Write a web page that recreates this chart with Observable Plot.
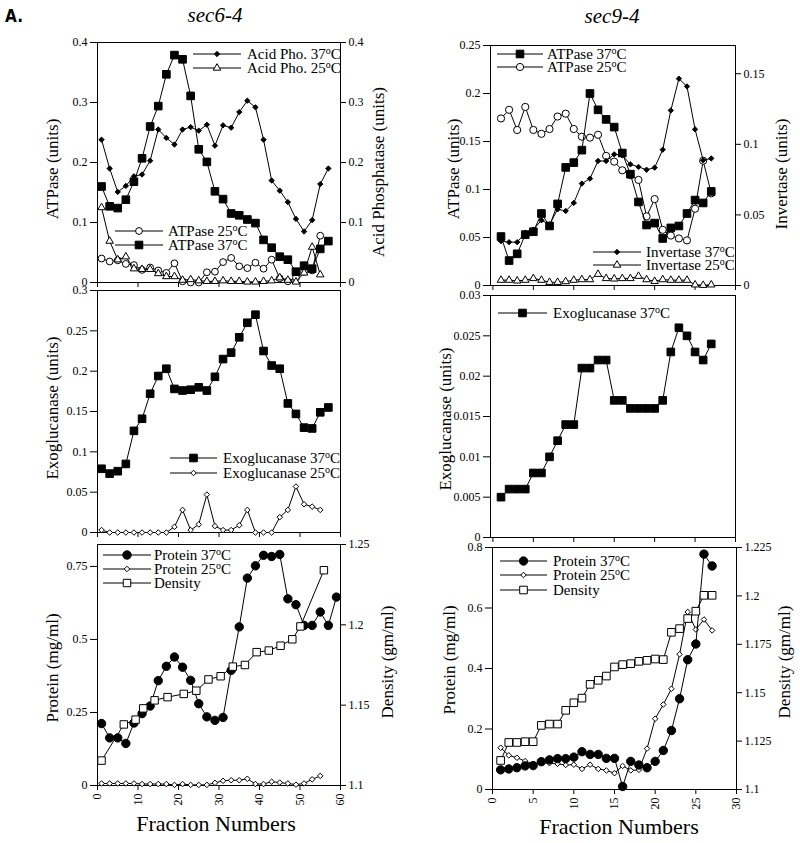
<!DOCTYPE html>
<html><head><meta charset="utf-8">
<script src="https://cdn.jsdelivr.net/npm/d3@7"></script>
<script src="https://cdn.jsdelivr.net/npm/@observablehq/plot@0.6"></script>
<style>
body{margin:0;background:#fff;}
#page{position:relative;width:800px;height:843px;overflow:hidden;background:#fff;}
#page svg, #page svg text{font-family:"Liberation Serif","Times New Roman",serif !important;}
#page svg text.sans{font-family:"Liberation Sans Narrow","DejaVu Sans Condensed","Liberation Sans",sans-serif !important;}
</style></head><body><div id="page"></div>
<script>
// ---------------- DATA ----------------
const fracOdd57 = [1,3,5,7,9,11,13,15,17,19,21,23,25,27,29,31,33,35,37,39,41,43,45,47,49,51,53,55,57];
const fracOdd55 = [1,3,5,7,9,11,13,15,17,19,21,23,25,27,29,31,33,35,37,39,41,43,45,47,49,51,53,55];
const fracOdd59 = [1,3,5,7,9,11,13,15,17,19,21,23,25,27,29,31,33,35,37,39,41,43,45,47,49,51,53,55,57,59];
const frac27 = [1,2,3,4,5,6,7,8,9,10,11,12,13,14,15,16,17,18,19,20,21,22,23,24,25,26,27];

// sec6-4
const sec6_atpase37 = [0.160,0.127,0.124,0.138,0.168,0.207,0.260,0.294,0.347,0.379,0.372,0.311,0.222,0.201,0.152,0.139,0.115,0.112,0.105,0.099,0.071,0.058,0.043,0.038,0.018,0.028,0.023,0.056,0.069];
const sec6_atpase25 = [0.040,0.035,0.037,0.031,0.029,0.021,0.025,0.020,0.016,0.032,0.002,0,0,0.017,0.018,0.034,0.041,0.027,0.024,0.033,0.023,0.038,0.007,0.002,0.008,0.018,0.020,0.078];
const sec6_acid37 = [0.238,0.190,0.151,0.161,0.177,0.180,0.203,0.255,0.241,0.230,0.255,0.259,0.253,0.263,0.228,0.262,0.258,0.284,0.303,0.292,0.238,0.170,0.153,0.134,0.106,0.085,0.104,0.164,0.190];
const sec6_acid25 = [0.125,0.069,0.038,0.043,0.023,0.022,0.022,0.015,0.010,0.010,0.004,0.005,0.003,0.002,0.002,0.003,0.002,0.002,0.001,0.001,0.002,0.003,0.008,0.004,0.001,0.016,0.059,0.013];
const sec6_exo37 = [0.079,0.073,0.076,0.085,0.126,0.141,0.172,0.194,0.203,0.178,0.176,0.177,0.180,0.176,0.193,0.215,0.223,0.242,0.260,0.270,0.225,0.207,0.203,0.160,0.147,0.130,0.129,0.149,0.155];
const sec6_exo25 = [0.003,0,0,0,0,0,0,0,0,0.007,0.028,0.003,0.010,0.047,0.008,0.003,0.003,0.009,0.028,0,0,0,0.019,0.028,0.057,0.035,0.032,0.028];
const sec6_prot37 = [0.212,0.163,0.163,0.144,0.214,0.246,0.272,0.359,0.408,0.440,0.405,0.360,0.280,0.235,0.223,0.233,0.394,0.543,0.710,0.752,0.788,0.784,0.791,0.639,0.619,0.548,0.548,0.594,0.548,0.645];
const sec6_prot25 = [0.007,0.007,0.007,0.007,0.007,0.005,0.005,0.005,0.005,0.002,0.005,0.002,0.002,0.002,0.009,0.016,0.018,0.018,0.023,0.005,0.005,0.013,0.010,0.007,0.003,0.007,0.021,0.033];
const sec6_densityFrac = [1,6.5,9.4,11.3,14.1,17.3,21.3,24.4,27.4,30.4,33.4,36.4,39.3,42.3,45.2,48.1,50.1,55.9];
const sec6_density = [1.1155,1.138,1.141,1.148,1.153,1.155,1.157,1.159,1.166,1.168,1.174,1.175,1.183,1.184,1.187,1.191,1.199,1.234];

// sec9-4
const sec9_atpase37 = [0.051,0.026,0.033,0.053,0.056,0.075,0.062,0.085,0.123,0.128,0.141,0.200,0.183,0.173,0.165,0.138,0.116,0.087,0.063,0.065,0.049,0.060,0.062,0.075,0.089,0.086,0.098];
const sec9_atpase25 = [0.174,0.183,0.162,0.186,0.162,0.158,0.163,0.176,0.179,0.163,0.155,0.154,0.157,0.135,0.129,0.120,0.115,0.110,0.072,0.090,0.058,0.052,0.049,0.047,0.080,0.130,0.096];
const sec9_inv37 = [0.0314,0.0307,0.0307,0.0373,0.0396,0.0462,0.0432,0.054,0.0528,0.0585,0.0722,0.0757,0.0882,0.0882,0.0929,0.0922,0.0858,0.084,0.082,0.0835,0.0962,0.124,0.1465,0.141,0.1106,0.0887,0.090];
const sec9_inv25 = [0.0038,0.0038,0.0033,0.0038,0.005,0.0038,0.0023,0.0023,0.0028,0.0038,0.0042,0.0042,0.008,0.005,0.0047,0.005,0.005,0.0066,0.0042,0.003,0.0042,0.0038,0.0038,0.0038,0.0005,0.0002,0.0005];
const sec9_exo37 = [0.005,0.006,0.006,0.006,0.008,0.008,0.010,0.012,0.014,0.014,0.021,0.021,0.022,0.022,0.017,0.017,0.016,0.016,0.016,0.016,0.017,0.023,0.026,0.025,0.023,0.022,0.024];
const sec9_prot37 = [0.065,0.068,0.072,0.078,0.079,0.092,0.098,0.102,0.102,0.107,0.125,0.116,0.116,0.103,0.103,0.010,0.093,0.081,0.072,0.093,0.129,0.195,0.300,0.429,0.481,0.778,0.739];
const sec9_prot25 = [0.138,0.113,0.105,0.094,0.085,0.089,0.087,0.085,0.081,0.082,0.068,0.082,0.068,0.063,0.054,0.078,0.063,0.065,0.135,0.234,0.281,0.333,0.447,0.587,0.529,0.562,0.526];
const sec9_density = [1.115,1.1243,1.1243,1.1247,1.1247,1.1331,1.1338,1.1338,1.1409,1.1448,1.1472,1.1543,1.1564,1.1586,1.1633,1.1645,1.165,1.1662,1.1667,1.1674,1.1671,1.1812,1.1831,1.1883,1.1921,1.2003,1.2003];

// tick labels
const ticksX60 = [0,10,20,30,40,50,60];
const ticksX30 = [0,5,10,15,20,25,30];
const ticksAtp6 = [0,0.1,0.2,0.3,0.4];
const ticksExo6 = [0,0.05,0.1,0.15,0.2,0.25,0.3];
const ticksProt6 = [0,0.25,0.5,0.75];
const ticksDens6 = [1.1,1.15,1.2,1.25];
const ticksAtp9 = [0,0.05,0.1,0.15,0.2,0.25];
const ticksInv9 = [0,0.05,0.1,0.15];
const ticksExo9 = [0,0.005,0.01,0.015,0.02,0.025,0.03];
const ticksProt9 = [0,0.2,0.4,0.6,0.8];
const ticksDens9 = [1.1,1.125,1.15,1.175,1.2,1.225];

// ---------------- RENDER ----------------
const FONT = '"Liberation Serif", "Times New Roman", serif';
const page = document.getElementById("page");

function S(x, y, symbol, r, filled) { return {x, y, symbol, r, filled}; }

function layers(series) {
  return series.flatMap(s => {
    const data = s.x.map((x, i) => ({x, y: s.y[i]}));
    return [
      Plot.line(data, {x: "x", y: "y", stroke: "black", strokeWidth: 1}),
      Plot.dot(data, {x: "x", y: "y", symbol: s.symbol, r: s.r,
        fill: s.filled ? "black" : "white", stroke: "black", strokeWidth: 1})
    ];
  });
}

function place(svg, left, top) {
  svg.style.position = "absolute";
  svg.style.left = left + "px";
  svg.style.top = top + "px";
  page.appendChild(svg);
}

function panel(cfg) {
  const W = 400, mt = 10, mb = cfg.xLabels ? 30 : 10;
  const ml = cfg.fx0 - cfg.colLeft, mr = cfg.colLeft + W - cfg.fx1;
  const H = cfg.fy1 - cfg.fy0 + mt + mb;
  const common = {width: W, height: H, marginLeft: ml, marginRight: mr, marginTop: mt, marginBottom: mb,
    style: {background: "transparent", fontFamily: FONT, fontSize: "12px", color: "black", overflow: "visible"}};
  const p1 = Plot.plot({...common,
    x: {domain: cfg.xDomain, ticks: cfg.xTicks, tickSize: 5, tickPadding: 3,
        tickFormat: cfg.xLabels ? (d => String(d)) : (() => ""), tickRotate: cfg.xLabels ? -90 : 0, label: null},
    y: {domain: cfg.yDomain, ticks: cfg.yTicks, tickSize: 7, tickPadding: 3, tickFormat: d => String(d), label: null},
    marks: [Plot.frame({stroke: "black"}), ...layers(cfg.left)]
  });
  place(p1, cfg.colLeft, cfg.fy0 - mt);
  if (cfg.right) {
    const p2 = Plot.plot({...common,
      x: {domain: cfg.xDomain, axis: null},
      y: {domain: cfg.y2Domain, ticks: cfg.y2Ticks, axis: "right", tickSize: 5, tickPadding: 3, tickFormat: d => String(d), label: null},
      marks: layers(cfg.right)
    });
    place(p2, cfg.colLeft, cfg.fy0 - mt);
  }
}

// sec6-4 column
panel({colLeft: 0, fx0: 97, fx1: 340, fy0: 42, fy1: 282, xDomain: [0, 60], xTicks: ticksX60,
  yDomain: [0, 0.4], yTicks: ticksAtp6, y2Domain: [0, 0.4], y2Ticks: ticksAtp6,
  left: [S(fracOdd55, sec6_atpase25, "circle", 3.4, false), S(fracOdd57, sec6_atpase37, "square", 4.3, true)],
  right: [S(fracOdd55, sec6_acid25, "triangle", 2.8, false), S(fracOdd57, sec6_acid37, "diamond2", 2.4, true)]});
panel({colLeft: 0, fx0: 97, fx1: 340, fy0: 290, fy1: 532, xDomain: [0, 60], xTicks: ticksX60,
  yDomain: [0, 0.3], yTicks: ticksExo6,
  left: [S(fracOdd55, sec6_exo25, "diamond2", 2.5, false), S(fracOdd57, sec6_exo37, "square", 4.3, true)]});
panel({colLeft: 0, fx0: 97, fx1: 340, fy0: 544, fy1: 785, xDomain: [0, 60], xTicks: ticksX60, xLabels: true,
  yDomain: [0, 0.825], yTicks: ticksProt6, y2Domain: [1.1, 1.25], y2Ticks: ticksDens6,
  left: [S(fracOdd55, sec6_prot25, "diamond2", 2.5, false), S(fracOdd59, sec6_prot37, "circle", 4.2, true)],
  right: [S(sec6_densityFrac, sec6_density, "square", 4.2, false)]});

// sec9-4 column
panel({colLeft: 400, fx0: 490, fx1: 735, fy0: 45, fy1: 285, xDomain: [-0.3, 30], xTicks: ticksX30,
  yDomain: [0, 0.25], yTicks: ticksAtp9, y2Domain: [0, 0.17], y2Ticks: ticksInv9,
  left: [S(frac27, sec9_atpase25, "circle", 3.6, false), S(frac27, sec9_atpase37, "square", 4.3, true)],
  right: [S(frac27, sec9_inv25, "triangle", 2.8, false), S(frac27, sec9_inv37, "diamond2", 2.4, true)]});
panel({colLeft: 400, fx0: 490, fx1: 735, fy0: 295, fy1: 537, xDomain: [-0.3, 30], xTicks: ticksX30,
  yDomain: [0, 0.03], yTicks: ticksExo9,
  left: [S(frac27, sec9_exo37, "square", 4.3, true)]});
panel({colLeft: 400, fx0: 492, fx1: 736, fy0: 547, fy1: 789, xDomain: [0, 30], xTicks: ticksX30, xLabels: true,
  yDomain: [0, 0.8], yTicks: ticksProt9, y2Domain: [1.1, 1.225], y2Ticks: ticksDens9,
  left: [S(frac27, sec9_prot25, "diamond2", 2.5, false), S(frac27, sec9_prot37, "circle", 4.2, true)],
  right: [S(frac27, sec9_density, "square", 4.3, false)]});

// ---------------- TEXT OVERLAY (titles, axis labels, legends) ----------------
const ov = d3.select(page).append("svg").attr("width", 800).attr("height", 843)
  .style("position", "absolute").style("left", "0px").style("top", "0px")
  .style("font-family", FONT).style("pointer-events", "none");

ov.append("text").attr("class", "sans").attr("x", 5).attr("y", 22).text("A.")
  .style("font-weight", "bold").style("font-size", "17px");
ov.append("text").attr("x", 215).attr("y", 22).attr("text-anchor", "middle").style("font-style", "italic").style("font-size", "21px").text("sec6-4");
ov.append("text").attr("x", 612).attr("y", 23).attr("text-anchor", "middle").style("font-style", "italic").style("font-size", "21px").text("sec9-4");

function vlabel(cx, cy, t, size) {
  ov.append("text").attr("transform", `translate(${cx},${cy}) rotate(-90)`)
    .attr("text-anchor", "middle").attr("dominant-baseline", "central")
    .style("font-size", (size || 17) + "px").text(t);
}
vlabel(52, 169, "ATPase (units)");
vlabel(52, 408, "Exoglucanase (units)");
vlabel(52, 668, "Protein (mg/ml)");
vlabel(378, 172, "Acid Phosphatase (units)");
vlabel(387, 662, "Density (gm/ml)");
vlabel(453, 169, "ATPase (units)");
vlabel(781, 174, "Invertase (units)");
vlabel(445, 419, "Exoglucanase (units)");
vlabel(449, 660, "Protein (mg/ml)");
vlabel(784, 662, "Density (gm/ml)");

ov.append("text").attr("x", 216).attr("y", 831).attr("text-anchor", "middle").style("font-size", "22px").text("Fraction Numbers");
ov.append("text").attr("x", 619).attr("y", 834).attr("text-anchor", "middle").style("font-size", "22px").text("Fraction Numbers");

const symMap = {square: d3.symbolSquare, circle: d3.symbolCircle, diamond2: d3.symbolDiamond2, triangle: d3.symbolTriangle};
function legend(x0, x1, y, symbol, r, filled, label, tx) {
  ov.append("line").attr("x1", x0).attr("x2", x1).attr("y1", y).attr("y2", y).attr("stroke", "black").attr("stroke-width", 1);
  ov.append("path").attr("transform", `translate(${(x0 + x1) / 2},${y})`)
    .attr("d", d3.symbol(symMap[symbol], r * r * Math.PI)())
    .attr("fill", filled ? "black" : "white").attr("stroke", "black").attr("stroke-width", 1);
  const t = ov.append("text").attr("x", tx).attr("y", y + 5).style("font-size", "15px");
  const m = label.match(/^(.*)oC$/);
  if (m) {
    t.append("tspan").text(m[1]);
    t.append("tspan").attr("dy", -5).style("font-size", "10px").text("o");
    t.append("tspan").attr("dy", 5).text("C");
  } else t.text(label);
}
// sec6-4 legends
legend(193, 241, 54, "diamond2", 2.4, true, "Acid Pho. 37oC", 247);
legend(193, 241, 68, "triangle", 2.8, false, "Acid Pho. 25oC", 247);
legend(115, 163, 231, "circle", 3.4, false, "ATPase 25oC", 168);
legend(115, 163, 245, "square", 4.3, true, "ATPase 37oC", 168);
legend(170, 217, 458, "square", 4.3, true, "Exoglucanase 37oC", 223);
legend(170, 217, 473, "diamond2", 2.5, false, "Exoglucanase 25oC", 223);
legend(103, 151, 555, "circle", 4.2, true, "Protein 37oC", 154);
legend(103, 151, 569, "diamond2", 2.5, false, "Protein 25oC", 154);
legend(103, 151, 583, "square", 4.2, false, "Density", 154);
// sec9-4 legends
legend(497, 543, 54, "square", 4.3, true, "ATPase  37oC", 547);
legend(497, 543, 67, "circle", 3.6, false, "ATPase 25oC", 547);
legend(593, 641, 252, "diamond2", 2.4, true, "Invertase 37oC", 646);
legend(593, 641, 265, "triangle", 2.8, false, "Invertase 25oC", 646);
legend(498, 547, 313, "square", 4.3, true, "Exoglucanase 37oC", 553);
legend(500, 547, 561, "circle", 4.2, true, "Protein 37oC", 553);
legend(500, 547, 575, "diamond2", 2.5, false, "Protein 25oC", 553);
legend(500, 547, 590, "square", 4.3, false, "Density", 553);
</script>
</body></html>
